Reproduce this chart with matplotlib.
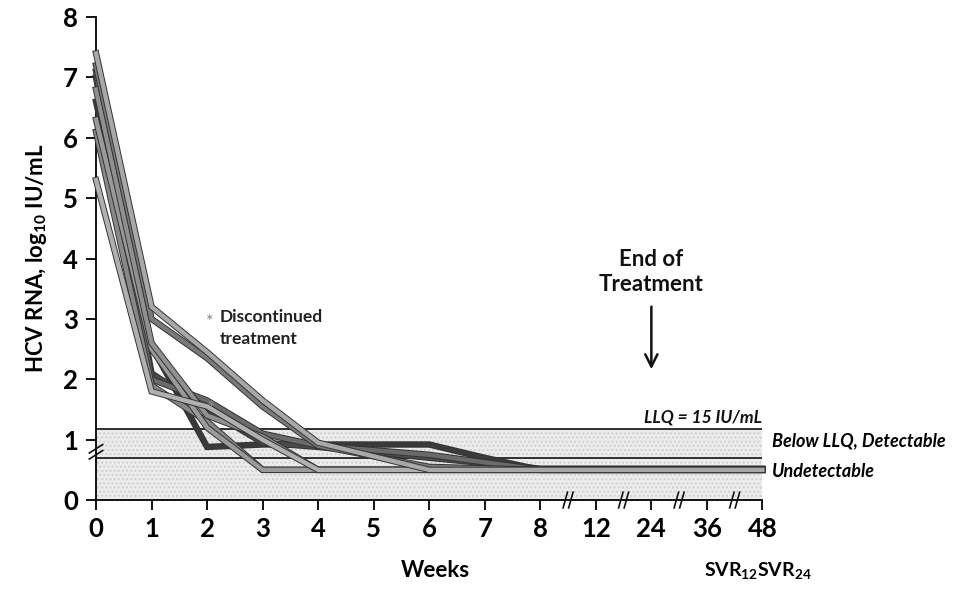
import numpy as np
import matplotlib
matplotlib.use("Agg")
import matplotlib.pyplot as plt
import matplotlib.patheffects as pe

plt.rcParams['font.family'] = ['Lato', 'DejaVu Sans']
plt.rcParams['mathtext.fontset'] = 'custom'
plt.rcParams['mathtext.rm'] = 'Lato'
plt.rcParams['mathtext.bf'] = 'Lato:bold'
plt.rcParams['mathtext.it'] = 'Lato:italic'

# x tick labels (weeks) at equally spaced positions
week_labels = ["0", "1", "2", "3", "4", "5", "6", "7", "8", "12", "24", "36", "48"]
y_ticks = [0, 1, 2, 3, 4, 5, 6, 7, 8]

# patients: positions on the week axis and log10 HCV RNA
pA_x = [0, 1, 2, 3, 4, 6, 8, 9, 10, 11, 12]
pA_y = [7.4, 3.2, 2.45, 1.65, 0.95, 0.5, 0.5, 0.5, 0.5, 0.5, 0.5]
pB_x = [0, 1, 2, 3, 4, 6, 8, 9, 10, 11, 12]
pB_y = [7.2, 3.0, 2.35, 1.55, 0.9, 0.55, 0.5, 0.5, 0.5, 0.5, 0.5]
pC_x = [0, 1, 2, 3, 4, 5, 6, 7, 8, 9, 10, 11, 12]
pC_y = [6.6, 2.55, 0.88, 0.92, 0.92, 0.92, 0.92, 0.7, 0.5, 0.5, 0.5, 0.5, 0.5]
pD_x = [0, 1, 2, 3, 4, 6, 8, 9, 10, 11, 12]
pD_y = [7.0, 2.1, 1.5, 0.95, 0.88, 0.7, 0.52, 0.52, 0.52, 0.52, 0.52]
pE_x = [0, 1, 2, 3, 4, 6, 8, 9, 10, 11, 12]
pE_y = [6.3, 2.5, 1.2, 0.5, 0.5, 0.5, 0.5, 0.5, 0.5, 0.5, 0.5]
pF_x = [0, 1, 2, 3, 4, 6, 8, 9, 10, 11, 12]
pF_y = [6.1, 1.9, 1.3, 0.5, 0.5, 0.5, 0.5, 0.5, 0.5, 0.5, 0.5]
pG_x = [0, 1, 2, 3, 4, 6, 8, 9, 10, 11, 12]
pG_y = [5.3, 1.8, 1.55, 1.0, 0.5, 0.5, 0.5, 0.5, 0.5, 0.5, 0.5]
pH_x = [0, 1, 2, 3, 4, 6, 8, 9, 10, 11, 12]
pH_y = [6.8, 2.6, 1.4, 1.05, 0.5, 0.5, 0.5, 0.5, 0.5, 0.5, 0.5]
pI_x = [0, 1, 2, 3, 4, 6, 8, 9, 10, 11, 12]
pI_y = [7.1, 2.0, 1.65, 1.1, 0.9, 0.75, 0.5, 0.5, 0.5, 0.5, 0.5]

patients = [
    (pC_x, pC_y, "#3a3a3a"),
    (pD_x, pD_y, "#4a4a4a"),
    (pI_x, pI_y, "#6a6a6a"),
    (pF_x, pF_y, "#888888"),
    (pE_x, pE_y, "#9a9a9a"),
    (pH_x, pH_y, "#909090"),
    (pG_x, pG_y, "#b0b0b0"),
    (pB_x, pB_y, "#7a7a7a"),
    (pA_x, pA_y, "#a8a8a8"),
]

LLQ = 1.18
LOD = 0.70

fig = plt.figure(figsize=(9.7, 5.89), dpi=100)
ax = fig.add_axes([0.099, 0.151, 0.687, 0.820])
ax.set_xlim(0, 12)
ax.set_ylim(0, 8)

# shaded (stippled) region below LLQ
ax.axhspan(0, LLQ, xmin=0, xmax=1, facecolor="#ececec", edgecolor="#cfcfcf",
           hatch="....", linewidth=0, zorder=0)
ax.plot([0, 12], [LLQ, LLQ], color="#222222", lw=1.3, zorder=1)
ax.plot([0, 12], [LOD, LOD], color="#222222", lw=1.3, zorder=1)

for x, y, c in patients:
    ax.plot(x, y, color=c, lw=3.2, solid_joinstyle="miter", clip_on=False, zorder=3,
            path_effects=[pe.Stroke(linewidth=4.6, foreground="#333333"), pe.Normal()])

# asterisk marking discontinued treatment
ax.text(2.08, 1.5, "*", fontsize=15, color="#888888", ha="center", va="center", zorder=4)
ax.text(2.05, 2.95, "*", fontsize=13, color="#888888", ha="center", va="center")
ax.text(2.23, 2.85, "Discontinued\ntreatment", fontsize=12.5, fontweight="bold",
        color="#222222", ha="left", va="center", linespacing=1.45)

# End of treatment annotation
ax.text(10, 3.4, "End of\nTreatment", fontsize=16, fontweight="bold",
        color="#111111", ha="center", va="bottom", linespacing=1.2)
ax.annotate("", xy=(10, 2.12), xytext=(10, 3.25),
            arrowprops=dict(arrowstyle="->", color="#111111", lw=1.8, mutation_scale=22))

ax.text(12, LLQ + 0.05, "LLQ = 15 IU/mL", fontsize=12.5, fontweight="bold", style="italic",
        ha="right", va="bottom", color="#111111")
ax.text(12.18, (LLQ + LOD) / 2 + 0.05, "Below LLQ, Detectable", fontsize=13,
        fontweight="bold", style="italic", ha="left", va="center", clip_on=False)
ax.text(12.18, 0.48, "Undetectable", fontsize=13, fontweight="bold", style="italic",
        ha="left", va="center", clip_on=False)

# axes styling
for s in ["top", "right"]:
    ax.spines[s].set_visible(False)
ax.spines["left"].set_linewidth(1.3)
ax.spines["bottom"].set_linewidth(1.3)
ax.set_xticks(range(len(week_labels)))
ax.set_xticklabels(week_labels)
ax.set_yticks(y_ticks)
ax.tick_params(axis="both", direction="out", length=7, width=1.3, labelsize=18.5)
ax.tick_params(axis="x", pad=5)
ax.tick_params(axis="y", pad=6)
for lab in ax.get_xticklabels() + ax.get_yticklabels():
    lab.set_fontweight("bold")

# axis break marks
def xbreak(xp):
    for dx in (-0.05, 0.05):
        ax.plot([xp + dx - 0.04, xp + dx + 0.04], [-0.13, 0.13], color="#111111",
                lw=1.2, clip_on=False, zorder=5)

for xp in [8.5, 9.5, 10.5, 11.5]:
    xbreak(xp)
for dy in (-0.05, 0.05):
    ax.plot([-0.12, 0.12], [0.8 + dy - 0.07, 0.8 + dy + 0.07], color="#111111",
            lw=1.2, clip_on=False, zorder=5)

ax.set_ylabel("HCV RNA, log$_{\\mathbf{10}}$ IU/mL", fontsize=16, fontweight="bold", labelpad=10)
fig.text(0.449, 0.02, "Weeks", fontsize=16, fontweight="bold", ha="center")
fig.text(0.781, 0.022, "SVR$_{\\mathbf{12}}$SVR$_{\\mathbf{24}}$", fontsize=14,
         fontweight="bold", ha="center")

fig.savefig("out.png", dpi=100, facecolor="white")
